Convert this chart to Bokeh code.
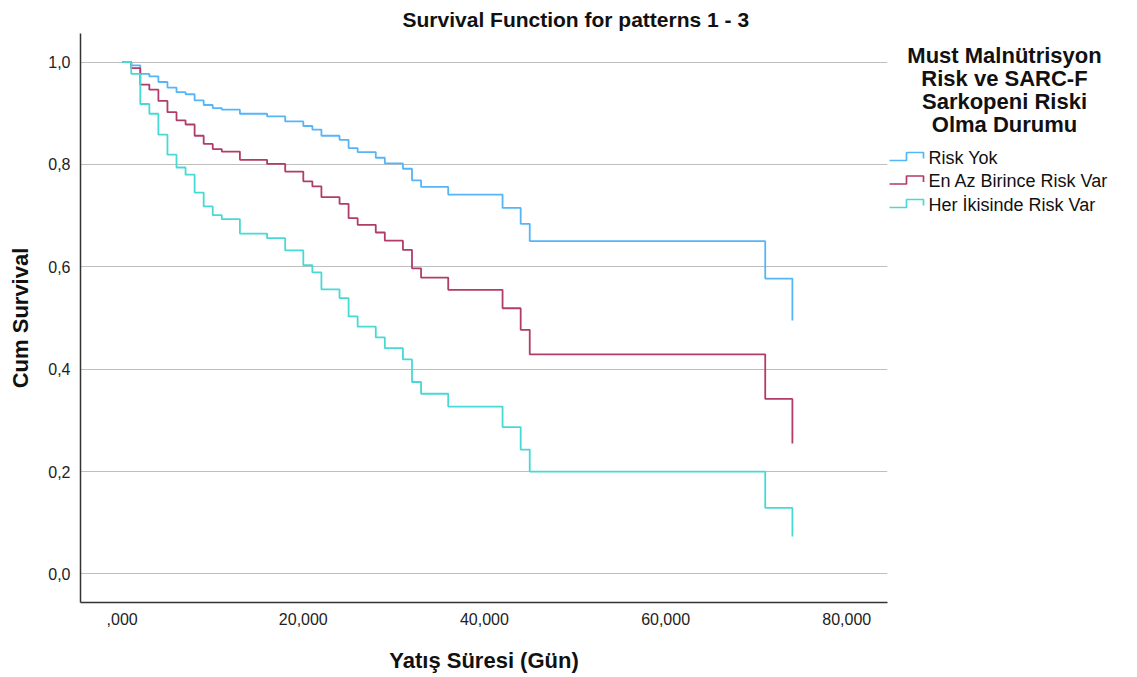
from bokeh.plotting import figure
from bokeh.layouts import row
from bokeh.models import Range1d, FixedTicker
from bokeh.core.properties import value
from bokeh.embed import file_html
from bokeh.resources import INLINE

# ---------------- data ----------------
days = [0, 1, 2, 3, 4, 5, 6, 7, 8, 9, 10, 11, 13, 16, 18, 20, 21, 22, 24, 25,
        26, 28, 29, 31, 32, 33, 36, 42, 44, 45, 71, 74]

risk_yok = [1.0, 0.9935, 0.977, 0.972, 0.961, 0.950, 0.941, 0.937, 0.925, 0.916,
            0.910, 0.907, 0.899, 0.894, 0.884, 0.875, 0.868, 0.856, 0.848, 0.832,
            0.824, 0.813, 0.802, 0.7915, 0.769, 0.756, 0.741, 0.715, 0.684, 0.650,
            0.577, 0.495]

en_az_birince = [1.0, 0.988, 0.956, 0.946, 0.924, 0.902, 0.886, 0.878, 0.856, 0.840,
                 0.830, 0.825, 0.809, 0.801, 0.786, 0.767, 0.757, 0.736, 0.723, 0.695,
                 0.682, 0.667, 0.651, 0.633, 0.597, 0.579, 0.555, 0.519, 0.477, 0.429,
                 0.342, 0.255]

her_ikisinde = [1.0, 0.977, 0.918, 0.899, 0.858, 0.819, 0.794, 0.780, 0.745, 0.718,
                0.701, 0.693, 0.665, 0.656, 0.632, 0.603, 0.589, 0.556, 0.539, 0.503,
                0.483, 0.462, 0.441, 0.419, 0.375, 0.352, 0.327, 0.287, 0.243, 0.200,
                0.129, 0.073]

series_names = ["Risk Yok", "En Az Birince Risk Var", "Her İkisinde Risk Var"]
series_colors = ["#55B5F7", "#B23C69", "#47D9D3"]

legend_title_lines = ["Must Malnütrisyon", "Risk ve SARC-F", "Sarkopeni Riski", "Olma Durumu"]

x_ticks = [0, 20, 40, 60, 80]
x_tick_labels = [",000", "20,000", "40,000", "60,000", "80,000"]
y_ticks = [0.0, 0.2, 0.4, 0.6, 0.8, 1.0]
y_tick_labels = ["0,0", "0,2", "0,4", "0,6", "0,8", "1,0"]

title_text = "Survival Function for patterns 1 - 3"
x_label = "Yatış Süresi (Gün)"
y_label = "Cum Survival"

FONT = "Liberation Sans"
TOP, BOTTOM = 33, 75
H = 677

# ---------------- main plot ----------------
p = figure(width=888, height=H, output_backend="svg", toolbar_location=None,
           x_range=Range1d(-4.6, 84.5), y_range=Range1d(-0.0557, 1.0557),
           min_border_left=80, min_border_right=1, min_border_top=TOP,
           min_border_bottom=BOTTOM)
p.outline_line_color = None
p.background_fill_color = "white"
p.border_fill_color = "white"

p.title.text = title_text
p.title.text_font = FONT
p.title.text_font_size = "21px"
p.title.text_font_style = "bold"
p.title.text_color = "#111111"
p.title.align = "left"
p.title.offset = 322
p.title.standoff = 6

for ys, c in zip([risk_yok, en_az_birince, her_ikisinde], series_colors):
    p.step(days, ys, mode="after", line_color=c, line_width=1.8)

p.xgrid.visible = False
p.ygrid.ticker = FixedTicker(ticks=y_ticks)
p.ygrid.grid_line_color = "#BEBEBE"
p.ygrid.grid_line_width = 1.2

p.xaxis.ticker = FixedTicker(ticks=x_ticks)
p.xaxis.major_label_overrides = dict(zip(x_ticks, x_tick_labels))
p.yaxis.ticker = FixedTicker(ticks=y_ticks)
p.yaxis.major_label_overrides = dict(zip(y_ticks, y_tick_labels))

for ax in (p.xaxis[0], p.yaxis[0]):
    ax.axis_line_color = "#333333"
    ax.axis_line_width = 1.5
    ax.major_tick_line_color = None
    ax.minor_tick_line_color = None
    ax.major_tick_out = 0
    ax.major_tick_in = 0
    ax.major_label_text_font = FONT
    ax.major_label_text_font_size = "16px"
    ax.major_label_text_color = "#222222"
    ax.axis_label_text_font = FONT
    ax.axis_label_text_font_size = "22px"
    ax.axis_label_text_font_style = "bold"
    ax.axis_label_text_color = "#111111"

p.xaxis.axis_label = x_label
p.yaxis.axis_label = y_label
p.xaxis.major_label_standoff = 10
p.yaxis.major_label_standoff = 10
p.xaxis.axis_label_standoff = 20
p.yaxis.axis_label_standoff = 12

# ---------------- legend panel ----------------
# frame matched to the main plot's frame, y measured in page pixels from the top
lg = figure(width=249, height=H, output_backend="svg", toolbar_location=None,
            x_range=Range1d(888, 1137), y_range=Range1d(H - BOTTOM, TOP),
            x_axis_location=None, y_axis_location=None, min_border_left=0,
            min_border_right=0, min_border_top=TOP, min_border_bottom=BOTTOM)
lg.outline_line_color = None
lg.xgrid.visible = False
lg.ygrid.visible = False

title_y = [55 + 23 * i for i in range(len(legend_title_lines))]
lg.text(x=[1004] * len(legend_title_lines), y=title_y, text=legend_title_lines,
        text_font=value(FONT), text_font_size="22px", text_font_style="bold",
        text_align="center", text_baseline="middle", text_color="#111111")

item_y = [157 + 23.5 * i for i in range(len(series_names))]
for yc, c in zip(item_y, series_colors):
    lg.line(x=[889, 906, 906, 923, 923], y=[yc + 3, yc + 3, yc - 5, yc - 5, yc + 1],
            line_color=c, line_width=1.7)
lg.text(x=[928] * len(series_names), y=item_y, text=series_names,
        text_font=value(FONT), text_font_size="18px", text_align="left",
        text_baseline="middle", text_color="#111111")

layout = row(p, lg)
open("out.html", "w").write(file_html(layout, INLINE))
